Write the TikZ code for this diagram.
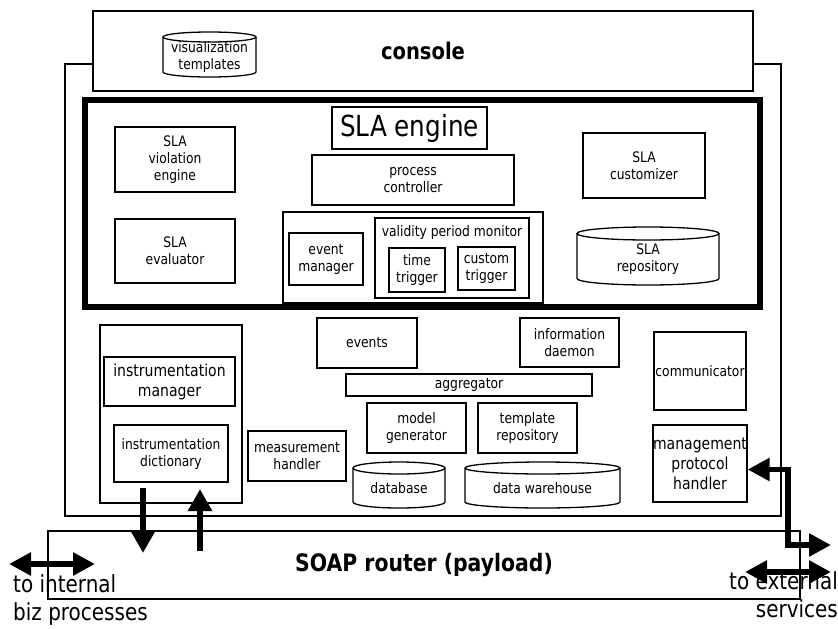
\documentclass[tikz,border=0pt]{standalone}
\usepackage{fontspec}
\setmainfont{DejaVu Sans}[FakeStretch=0.85]
\usetikzlibrary{arrows.meta,positioning}

\newcommand{\fsmall}{\fontsize{14.5}{17}\selectfont}
\newcommand{\fmid}{\fontsize{16.5}{20}\selectfont}
\newcommand{\fbig}{\fontsize{23.5}{28}\selectfont}

\tikzset{
  box/.style={draw, line width=1.3pt, align=center, inner sep=0pt, font=\fsmall},
  lbl/.style={align=center, inner sep=0pt, font=\fsmall},
  fatarrow/.style={line width=6pt, -{Triangle[length=22pt,width=23pt]}},
  twoway/.style={line width=5.5pt, {Triangle[length=22pt,width=22pt]}-{Triangle[length=22pt,width=22pt]}}
}

% database drawn as a cylinder: name, x, y, half width, half height, lid, text
\newcommand{\dbase}[7]{%
  \draw[line width=1.3pt] (#2-#4,#3-#5+#6) -- (#2-#4,#3+#5-#6)
    arc[start angle=180, end angle=360, x radius=#4pt, y radius=#6pt]
    -- (#2+#4,#3-#5+#6);
  \draw[line width=1.3pt] (#2,#3-#5+#6) ellipse [x radius=#4pt, y radius=#6pt];
  \node[lbl] (#1) at (#2,#3+#6/2) {#7};
}

\begin{document}
\begin{tikzpicture}[x=1pt, y=-1pt]
\useasboundingbox (0,0) rectangle (838,629);

% Outer frame
\draw[line width=1.3pt] (65,64) rectangle (781,516);

% Console
\node[box, fill=white, minimum width=660, minimum height=80,
      font=\fontsize{23}{28}\selectfont\bfseries] (console) at (423,51) {console};
\dbase{vistpl}{209.5}{54.5}{46.5}{22.5}{5}{visualization\\templates}

% SLA engine
\node[draw, line width=6pt, minimum width=675, minimum height=207] (engine) at (422.5,203.5) {};
\node[box, minimum width=155, minimum height=42, font=\fontsize{29}{34}\selectfont] (title) at (409.5,128) {SLA engine};
\node[box, minimum width=202, minimum height=50] (proc) at (413,180) {process\\controller};
\node[box, minimum width=260, minimum height=91] (evbox) at (413,257.5) {};
\node[box, minimum width=74, minimum height=52] (evmgr) at (326,259) {event\\manager};
\node[box, minimum width=154, minimum height=80] (valid) at (452,258) {};
\node[lbl, below=8pt of valid.north] (validtxt) {validity period monitor};
\node[box, minimum width=56, minimum height=44] (timetrig) at (417,270) {time\\trigger};
\node[box, minimum width=57, minimum height=43] (custtrig) at (486.5,268.5) {custom\\trigger};
\node[box, minimum width=120, minimum height=65] (violation) at (175,159.5) {SLA\\violation\\engine};
\node[box, minimum width=120, minimum height=64] (evaluator) at (175,251) {SLA\\evaluator};
\node[box, minimum width=122, minimum height=65] (customizer) at (644,165.5) {SLA\\customizer};
\dbase{slarepo}{648}{256}{71}{29}{6.5}{SLA\\repository}

% Instrumentation
\node[box, minimum width=142, minimum height=178] (instr) at (171,414) {};
\node[box, minimum width=131, minimum height=49, font=\fmid] (instrmgr) at (169.5,381.5) {instrumentation\\manager};
\node[box, minimum width=114, minimum height=57] (instrdict) at (171,453.5) {instrumentation\\dictionary};
\node[box, minimum width=98, minimum height=50] (meas) at (297,456) {measurement\\handler};

% Middle blocks
\node[box, minimum width=100, minimum height=50] (events) at (367,343) {events};
\node[box, minimum width=99, minimum height=49] (infod) at (569.5,342.5) {information\\daemon};
\node[box, minimum width=246, minimum height=22] (aggr) at (469,385) {aggregator};
\node[box, minimum width=99, minimum height=50] (modelgen) at (416.5,428) {model\\generator};
\node[box, minimum width=99, minimum height=50] (tplrepo) at (527.5,428) {template\\repository};
\dbase{database}{399}{485}{46}{23}{6}{database}
\dbase{warehouse}{542.5}{485}{77.5}{23}{6}{data warehouse}

% Right side
\node[box, minimum width=92, minimum height=78] (comm) at (700,371) {communicator};
\node[box, minimum width=92, minimum height=77, font=\fmid] (mph) at (700,463.5) {management\\protocol\\handler};

% SOAP router
\node[box, minimum width=752, minimum height=68,
      font=\fontsize{24}{29}\selectfont\bfseries] (soap) at (424,565) {SOAP router (payload)};

% Arrows between instrumentation and router
\coordinate (dnA) at (143,488);
\coordinate (dnB) at (143,553);
\coordinate (upA) at (200,551);
\coordinate (upB) at (200,489);
\draw[fatarrow] (dnA) -- (dnB);
\draw[fatarrow] (upA) -- (upB);

% To internal processes
\coordinate (inL) at (9,564);
\coordinate (inR) at (95,564);
\draw[twoway] (inL) -- (inR);
\node[font=\fbig, align=left, inner sep=0pt, anchor=base west] (inttxt) at (13,620) {to internal\\biz processes};

% To external services
\coordinate (bend) at (788,545);
\coordinate (outA) at (831,545);
\draw[twoway] ([yshift=-6pt]mph.east) -| (bend) -- (outA);
\coordinate (exL) at (745,572);
\coordinate (exR) at (831,572);
\draw[twoway] (exL) -- (exR);
\node[font=\fbig, align=right, inner sep=0pt, anchor=base east] (exttxt) at (838,617) {to external\\services};

\end{tikzpicture}
\end{document}
